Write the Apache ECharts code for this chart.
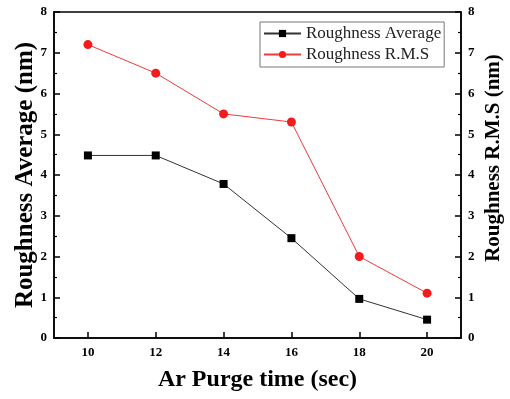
<!DOCTYPE html>
<html>
<head>
    <meta charset="utf-8">
    <script src="https://cdn.jsdelivr.net/npm/echarts@6/dist/echarts.min.js"></script>
    <style>
        html, body { margin: 0; padding: 0; background: #fff; }
        #chart { width: 510px; height: 399px; }
    </style>
</head>
<body>
    <div id="chart"></div>
    <script type="text/javascript">
        // Ar purge time (sec)
        let purgeTime = [10, 12, 14, 16, 18, 20]
        let roughAvg = [4.48, 4.48, 3.78, 2.45, 0.96, 0.45]
        let roughRms = [7.2, 6.5, 5.5, 5.3, 2.0, 1.1]
        let xTicks = [10, 12, 14, 16, 18, 20]

        let serif = '"Liberation Serif", "Times New Roman", serif'

        function pairs(xs, ys) {
            return xs.map((x, i) => [x, ys[i]])
        }

        function yAxisCfg(name, pos, size, gap, pad) {
            return {
                type: 'value',
                position: pos,
                min: 0,
                max: 8,
                interval: 1,
                name: name,
                nameLocation: 'middle',
                nameRotate: 90,
                nameGap: gap,
                nameMoveOverlap: false,
                nameTextStyle: {
                    fontFamily: serif, fontWeight: 'bold', fontSize: size, color: '#000',
                    padding: pad
                },
                axisLine: { show: true, lineStyle: { color: '#000', width: 1.5 } },
                axisTick: { show: true, inside: true, length: 6, lineStyle: { color: '#000', width: 1.5 } },
                minorTick: { show: true, splitNumber: 2, length: 3, lineStyle: { color: '#000', width: 1.2 } },
                axisLabel: {
                    fontFamily: serif, fontWeight: 'bold', fontSize: 13, color: '#000', margin: 7
                },
                splitLine: { show: false }
            }
        }

        let myChart = echarts.init(document.getElementById('chart'))

        let option = {
            backgroundColor: '#fff',
            animation: false,
            grid: {
                left: 54, right: 49, top: 12, bottom: 61,
                show: true, borderColor: '#000', borderWidth: 1.5,
                containLabel: false,
                outerBoundsMode: 'none'
            },
            legend: {
                orient: 'vertical',
                left: 260,
                top: 22,
                itemWidth: 37,
                itemHeight: 9,
                itemGap: 4,
                padding: [3, 3, 4, 3],
                backgroundColor: '#fff',
                borderColor: '#777',
                borderWidth: 1,
                textStyle: { fontFamily: serif, fontSize: 17, color: '#222' },
                data: ['Roughness Average', 'Roughness R.M.S']
            },
            xAxis: {
                type: 'value',
                min: 9,
                max: 21,
                name: 'Ar Purge time (sec)',
                nameLocation: 'middle',
                nameGap: 30,
                nameTextStyle: {
                    fontFamily: serif, fontWeight: 'bold', fontSize: 24, color: '#000'
                },
                axisLine: { show: true, lineStyle: { color: '#000', width: 1.5 } },
                axisTick: {
                    show: true, inside: true, length: 6, customValues: xTicks,
                    lineStyle: { color: '#000', width: 1.5 }
                },
                axisLabel: {
                    customValues: xTicks,
                    fontFamily: serif, fontWeight: 'bold', fontSize: 13, color: '#000', margin: 8
                },
                splitLine: { show: false }
            },
            yAxis: [
                yAxisCfg('Roughness Average (nm)', 'left', 25, 16, [0, 0, 0, 0]),
                yAxisCfg('Roughness R.M.S (nm)', 'right', 21, 22, [0, 0, 0, 34])
            ],
            series: [
                {
                    name: 'Roughness Average',
                    type: 'line',
                    yAxisIndex: 0,
                    symbol: 'rect',
                    symbolSize: 8,
                    itemStyle: { color: '#000' },
                    lineStyle: { color: '#333', width: 1 },
                    data: pairs(purgeTime, roughAvg)
                },
                {
                    name: 'Roughness R.M.S',
                    type: 'line',
                    yAxisIndex: 1,
                    symbol: 'circle',
                    symbolSize: 9,
                    itemStyle: { color: '#f21c1c' },
                    lineStyle: { color: '#f03a3a', width: 1 },
                    data: pairs(purgeTime, roughRms)
                }
            ]
        }

        myChart.setOption(option)
    </script>
</body>
</html>
